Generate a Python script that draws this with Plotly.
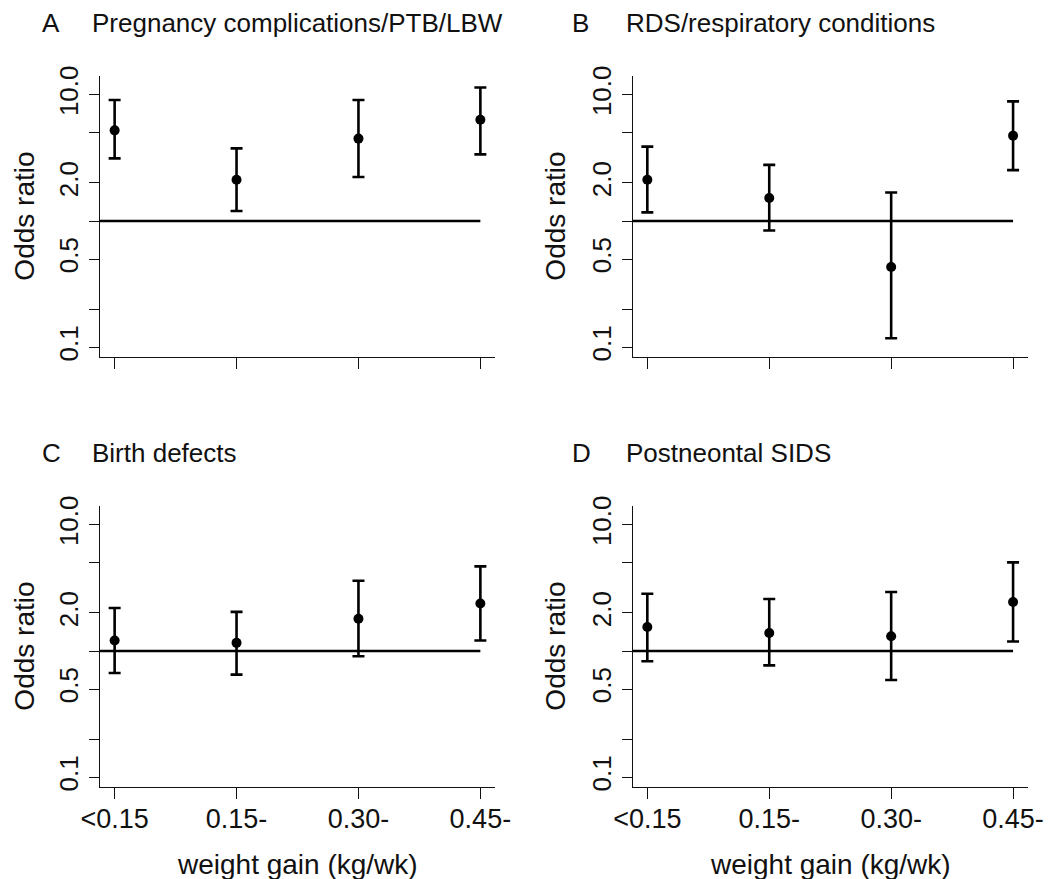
import plotly.graph_objects as go

categories = ["<0.15", "0.15-", "0.30-", "0.45-"]

panel_letters = ["A", "B", "C", "D"]
panel_titles = ["Pregnancy complications/PTB/LBW", "RDS/respiratory conditions",
                "Birth defects", "Postneontal SIDS"]

# odds ratios with 95% CI
or_a = [5.22, 2.12, 4.49, 6.34]
lo_a = [3.13, 1.20, 2.23, 3.37]
hi_a = [9.08, 3.76, 9.08, 11.4]

or_b = [2.12, 1.52, 0.432, 4.74]
lo_b = [1.17, 0.84, 0.118, 2.53]
hi_b = [3.88, 2.78, 1.68, 8.86]

or_c = [1.21, 1.16, 1.80, 2.38]
lo_c = [0.67, 0.65, 0.91, 1.21]
hi_c = [2.19, 2.04, 3.60, 4.68]

or_d = [1.55, 1.39, 1.31, 2.44]
lo_d = [0.83, 0.77, 0.59, 1.19]
hi_d = [2.84, 2.58, 2.93, 5.03]

y_tickvals = [0.1, 0.2, 0.5, 1, 2, 5, 10]
y_ticktext = ["0.1", "", "0.5", "", "2.0", "", "10.0"]
ref_value = 1.0

x_title = "weight gain (kg/wk)"
y_title = "Odds ratio"

series = [(or_a, lo_a, hi_a), (or_b, lo_b, hi_b), (or_c, lo_c, hi_c), (or_d, lo_d, hi_d)]

FONT = "Liberation Sans, Arial, sans-serif"
W, H = 1062, 879

xdoms = [[100 / W, 495 / W], [632.7 / W, 1027.7 / W]]
ydoms = [[1 - 357.3 / H, 1 - 76 / H], [1 - 787.3 / H, 1 - 506 / H]]

fig = go.Figure()
annotations = []
shapes = []

for i, (pt, lo, hi) in enumerate(series):
    row, col = divmod(i, 2)
    n = i + 1
    xa = "x" if n == 1 else f"x{n}"
    ya = "y" if n == 1 else f"y{n}"
    fig.add_trace(go.Scatter(
        x=categories, y=pt, mode="markers",
        marker=dict(color="black", size=10, symbol="circle"),
        error_y=dict(type="data", symmetric=False,
                     array=[h - p for h, p in zip(hi, pt)],
                     arrayminus=[p - l for p, l in zip(pt, lo)],
                     color="black", thickness=2.6, width=6),
        xaxis=xa, yaxis=ya, showlegend=False, cliponaxis=False))
    # reference line at OR = 1
    shapes.append(dict(type="line", xref=xa, yref=ya, x0=-0.12, x1=len(categories) - 1,
                       y0=ref_value, y1=ref_value, line=dict(color="black", width=2.6)))
    xkey = "xaxis" if n == 1 else f"xaxis{n}"
    ykey = "yaxis" if n == 1 else f"yaxis{n}"
    fig.update_layout(**{
        xkey: dict(domain=xdoms[col], anchor=ya, type="category",
                   categoryorder="array", categoryarray=categories,
                   range=[-0.12, 3.12], showgrid=False, zeroline=False,
                   showline=True, linecolor="#111", linewidth=1.3,
                   ticks="outside", ticklen=11, tickwidth=1.2, tickcolor="#111",
                   showticklabels=(row == 1), automargin=False,
                   tickfont=dict(family=FONT, size=27, color="#111"),
                   ticklabelstandoff=-4),
        ykey: dict(domain=ydoms[row], anchor=xa, type="log",
                   range=[-1.079, 1.148], showgrid=False, zeroline=False,
                   showline=True, linecolor="#111", linewidth=1.3,
                   ticks="outside", ticklen=10, tickwidth=1.2, tickcolor="#111",
                   tickvals=y_tickvals, ticktext=y_ticktext, tickangle=-90,
                   tickfont=dict(family=FONT, size=26, color="#111"),
                   ticklabelstandoff=0, automargin=False),
    })
    # panel titles
    top_px = 22.5 if row == 0 else 452.5
    letter_x = 40 if col == 0 else 570
    text_x = 90 if col == 0 else 624
    annotations.append(dict(text=panel_letters[i], x=letter_x / W, y=1 - top_px / H,
                            xref="paper", yref="paper", xanchor="left", yanchor="middle",
                            showarrow=False, font=dict(family=FONT, size=26, color="#111")))
    annotations.append(dict(text=panel_titles[i], x=text_x / W, y=1 - top_px / H,
                            xref="paper", yref="paper", xanchor="left", yanchor="middle",
                            showarrow=False, font=dict(family=FONT, size=26, color="#111")))
    # y axis title
    yc = (ydoms[row][0] + ydoms[row][1]) / 2
    ytx = 25 if col == 0 else 556
    annotations.append(dict(text=y_title, x=ytx / W, y=yc, xref="paper", yref="paper",
                            xanchor="center", yanchor="middle", textangle=-90,
                            showarrow=False, font=dict(family=FONT, size=28, color="#111")))
    if row == 1:
        xc = (xdoms[col][0] + xdoms[col][1]) / 2
        annotations.append(dict(text=x_title, x=xc, y=1 - 864 / H, xref="paper", yref="paper",
                                xanchor="center", yanchor="middle",
                                showarrow=False, font=dict(family=FONT, size=28, color="#111")))

fig.update_layout(width=W, height=H, margin=dict(l=0, r=0, t=0, b=0, pad=0, autoexpand=False),
                  paper_bgcolor="white", plot_bgcolor="white",
                  annotations=annotations, shapes=shapes,
                  font=dict(family=FONT, color="#111"))

fig.write_html("out.html", config={"displayModeBar": False},
               post_script="document.body.style.margin='0';document.body.style.overflow='hidden';")
